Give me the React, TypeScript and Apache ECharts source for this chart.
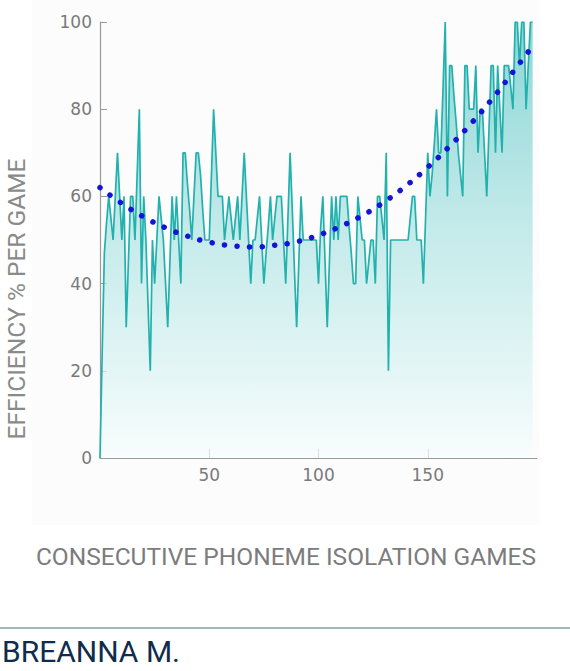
import React, { useEffect, useRef } from "react";
import * as echarts from "echarts";

// Efficiency (%) per game, games 0..198
const eff0to49 = [
  0, 24, 47, 54, 60, 55, 50, 60, 70, 60,
  50, 60, 30, 45, 60, 60, 50, 65, 80, 40,
  60, 50, 35, 20, 50, 40, 50, 60, 55, 50,
  40, 30, 45, 60, 50, 60, 50, 40, 70, 70,
  63, 57, 50, 60, 70, 70, 65, 57, 50, 50,
];
const eff50to99 = [
  50, 65, 80, 70, 60, 60, 60, 50, 55, 60,
  55, 50, 55, 60, 50, 60, 70, 60, 50, 40,
  50, 50, 55, 60, 50, 40, 47, 53, 60, 50,
  55, 60, 60, 60, 50, 40, 55, 70, 57, 43,
  30, 45, 60, 50, 50, 50, 50, 50, 50, 50,
];
const eff100to149 = [
  40, 53, 60, 45, 30, 45, 60, 50, 60, 50,
  60, 60, 60, 60, 53, 47, 40, 40, 60, 55,
  50, 50, 40, 45, 50, 50, 40, 60, 60, 55,
  50, 70, 20, 50, 50, 50, 50, 50, 50, 50,
  50, 50, 55, 60, 60, 50, 50, 50, 40, 55,
];
const eff150to198 = [
  70, 60, 65, 72, 80, 70, 70, 85, 100, 60,
  90, 90, 83, 77, 70, 65, 60, 90, 90, 80,
  80, 80, 90, 70, 80, 80, 70, 60, 75, 90,
  90, 70, 90, 80, 70, 90, 90, 90, 85, 80,
  100, 100, 90, 100, 100, 80, 90, 100, 100,
];
const efficiency = [...eff0to49, ...eff50to99, ...eff100to149, ...eff150to198];
const games = efficiency.map((_, i) => i);

// Trend line (dotted blue curve), read at sampled games
const trendGames = [0, 10, 20, 30, 40, 50, 60, 70, 80, 90, 100, 110, 120, 130, 140, 150, 160, 170, 180, 190, 198];
const trendValues = [62, 58.4, 55.3, 52.8, 50.9, 49.5, 48.7, 48.4, 48.8, 49.6, 51.1, 53.1, 55.6, 58.7, 62.4, 66.7, 71.5, 76.8, 82.7, 89.2, 94.5];

const xTitle = "CONSECUTIVE PHONEME ISOLATION GAMES";
const yTitle = "EFFICIENCY % PER GAME";
const studentName = "BREANNA M.";

export default function App() {
  const ref = useRef<HTMLDivElement>(null);
  useEffect(() => {
    const chart = echarts.init(ref.current!, null, { renderer: "svg" });
    const labelStyle = { color: "#7a7a7a", fontFamily: "DejaVu Sans", fontSize: 17 };
    chart.setOption({
      animation: false,
      backgroundColor: "#ffffff",
      grid: { left: 100, top: 22, right: 33, bottom: 213 },
      xAxis: {
        type: "value",
        min: 0,
        max: 200,
        interval: 50,
        axisLine: { show: true, lineStyle: { color: "#9a9a9a", width: 1.2 } },
        axisTick: { show: true, inside: true, length: 9, lineStyle: { color: "#9a9a9a" } },
        axisLabel: { ...labelStyle, margin: 8, showMinLabel: false, showMaxLabel: false },
        splitLine: { show: false },
      },
      yAxis: {
        type: "value",
        min: 0,
        max: 100,
        interval: 20,
        axisLine: { show: true, lineStyle: { color: "#9a9a9a", width: 1.2 } },
        axisTick: { show: true, inside: true, length: 7, lineStyle: { color: "#9a9a9a" } },
        axisLabel: { ...labelStyle, margin: 8 },
        splitLine: { show: false },
      },
      graphic: [
        {
          type: "rect",
          z: -10,
          shape: { x: 32, y: 0, width: 508, height: 525 },
          style: { fill: "#fcfcfc" },
        },
        {
          type: "text",
          x: 286,
          y: 556,
          style: {
            text: xTitle,
            fill: "#7c7c7c",
            font: "24.5px Roboto",
            align: "center",
            verticalAlign: "middle",
          },
        },
        {
          type: "text",
          x: 16,
          y: 299,
          rotation: Math.PI / 2,
          style: {
            text: yTitle,
            fill: "#8a8a8a",
            font: "24.5px Roboto",
            align: "center",
            verticalAlign: "middle",
          },
        },
        {
          type: "line",
          shape: { x1: 0, y1: 628, x2: 570, y2: 628 },
          style: { stroke: "#7fa3a6", lineWidth: 1.5 },
        },
        {
          type: "text",
          x: 2,
          y: 651,
          style: {
            text: studentName,
            fill: "#0f2c4c",
            font: "30px Roboto",
            align: "left",
            verticalAlign: "middle",
          },
        },
      ],
      series: [
        {
          type: "line",
          data: games.map((g, i) => [g, efficiency[i]]),
          symbol: "none",
          lineStyle: { color: "#22b1ad", width: 1.7 },
          areaStyle: {
            color: new echarts.graphic.LinearGradient(0, 0, 0, 1, [
              { offset: 0, color: "#5cc7c6" },
              { offset: 0.45, color: "#a9e1e1" },
              { offset: 1, color: "#f6fdfd" },
            ]),
          },
          z: 2,
        },
        {
          type: "line",
          data: trendGames.map((g, i) => [g, trendValues[i]]),
          symbol: "none",
          smooth: true,
          lineStyle: { color: "#1414d6", width: 5.5, type: [0.1, 12.5], cap: "round" },
          z: 3,
        },
      ],
    });
    return () => chart.dispose();
  }, []);
  return (
    <div
      ref={ref}
      style={{ position: "absolute", left: 0, top: 0, width: 570, height: 671 }}
    />
  );
}
